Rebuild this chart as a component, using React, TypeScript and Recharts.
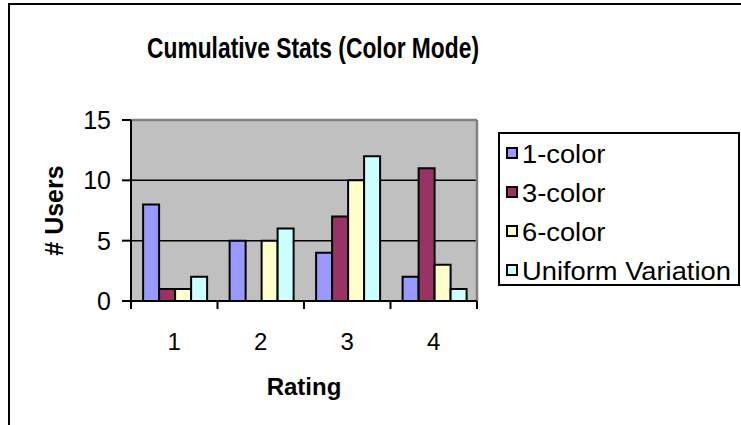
import React from 'react';
import {
  BarChart,
  Bar,
  XAxis,
  YAxis,
  CartesianGrid,
  Legend,
  ReferenceLine,
} from 'recharts';

const ratings = ['1', '2', '3', '4'];
const oneColor = [8, 5, 4, 2];
const threeColor = [1, 0, 7, 11];
const sixColor = [1, 5, 10, 3];
const uniformVariation = [2, 6, 12, 1];
const yTicks = [0, 5, 10, 15];

const seriesNames = ['1-color', '3-color', '6-color', 'Uniform Variation'];
const seriesKeys = ['c1', 'c3', 'c6', 'uv'];
const seriesColors = ['#9999FF', '#993366', '#FFFFCC', '#CCFFFF'];

const data = ratings.map((r, i) => ({
  rating: r,
  c1: oneColor[i],
  c3: threeColor[i],
  c6: sixColor[i],
  uv: uniformVariation[i],
}));

const FONT = '"Liberation Sans", Arial, sans-serif';
const W = 741;
const H = 425;
const MARGIN = { top: 120, right: 22, bottom: 64, left: 71 };
const X_AXIS_H = 60;
const Y_AXIS_W = 60;
const LEGEND_W = 242;
const PLOT_LEFT = MARGIN.left + Y_AXIS_W;
const PLOT_RIGHT = W - MARGIN.right - LEGEND_W;
const PLOT_BOTTOM = H - MARGIN.bottom - X_AXIS_H;
const BAND = (PLOT_RIGHT - PLOT_LEFT) / ratings.length;

const XTick = (props: any) => {
  const { x, payload, index } = props;
  const last = index === ratings.length - 1;
  return (
    <g>
      <line x1={x - BAND / 2} x2={x - BAND / 2} y1={PLOT_BOTTOM} y2={PLOT_BOTTOM + 8} stroke="#000" strokeWidth={2} />
      {last && (
        <line x1={x + BAND / 2} x2={x + BAND / 2} y1={PLOT_BOTTOM} y2={PLOT_BOTTOM + 8} stroke="#000" strokeWidth={2} />
      )}
      <text x={x} y={PLOT_BOTTOM + 49} textAnchor="middle" fontFamily={FONT} fontSize={24} fill="#000">
        {payload.value}
      </text>
    </g>
  );
};

const LegendBox = () => (
  <div
    style={{
      boxSizing: 'border-box',
      width: LEGEND_W,
      height: 154,
      border: '2px solid #000',
      background: '#fff',
      paddingTop: 1,
      fontFamily: FONT,
      fontSize: 26,
      color: '#000',
    }}
  >
    {seriesNames.map((name, i) => (
      <div key={name} style={{ height: 39, display: 'flex', alignItems: 'center', whiteSpace: 'nowrap' }}>
        <span
          style={{
            boxSizing: 'border-box',
            display: 'inline-block',
            width: 12,
            height: 12,
            marginLeft: 6,
            marginRight: 4,
            marginTop: -3,
            border: '2px solid #000',
            background: seriesColors[i],
          }}
        />
        <span style={{ display: 'inline-block', transform: 'scaleX(1.05)', transformOrigin: 'left center' }}>{name}</span>
      </div>
    ))}
  </div>
);

export default function App() {
  return (
    <div style={{ position: 'fixed', left: 0, top: 0, width: W, height: H, overflow: 'hidden', background: '#fff' }}>
      <div
        style={{
          position: 'absolute',
          left: 8,
          top: 3,
          width: 800,
          height: 500,
          borderLeft: '2px solid #000',
          borderTop: '2px solid #000',
        }}
      />
      <div style={{ position: 'absolute', left: 0, top: 0 }}>
        <BarChart
          width={W}
          height={H}
          data={data}
          margin={MARGIN}
          barGap={0}
          barCategoryGap="14%"
        >
          <text
            x={313}
            y={58}
            textAnchor="middle"
            textLength={332}
            lengthAdjust="spacingAndGlyphs"
            fontFamily={FONT}
            fontWeight="bold"
            fontSize={29}
            fill="#000"
          >
            Cumulative Stats (Color Mode)
          </text>
          <CartesianGrid vertical={false} stroke="#000" strokeWidth={1.5} fill="#C0C0C0" fillOpacity={1} />
          <ReferenceLine y={15} stroke="#808080" strokeWidth={2.5} />
          <ReferenceLine x="4" position="end" stroke="#808080" strokeWidth={2.5} />
          <XAxis
            dataKey="rating"
            height={X_AXIS_H}
            tickLine={false}
            axisLine={{ stroke: '#000', strokeWidth: 2 }}
            tick={<XTick />}
            interval={0}
            label={{
              content: (p: any) => (
                <text
                  x={p.viewBox.x + p.viewBox.width / 2}
                  y={p.viewBox.y + 94}
                  textAnchor="middle"
                  fontFamily={FONT}
                  fontWeight="bold"
                  fontSize={24}
                  fill="#000"
                >
                  Rating
                </text>
              ),
            }}
          />
          <YAxis
            width={Y_AXIS_W}
            domain={[0, 15]}
            ticks={yTicks}
            interval={0}
            tickSize={9}
            tickMargin={11}
            tickLine={{ stroke: '#000', strokeWidth: 2 }}
            axisLine={{ stroke: '#000', strokeWidth: 2 }}
            tick={{ fontFamily: FONT, fontSize: 25, fill: '#000' }}
            label={{
              content: (p: any) => {
                const cx = p.viewBox.x - 17;
                const cy = p.viewBox.y + p.viewBox.height / 2;
                return (
                  <text
                    x={cx}
                    y={cy}
                    transform={`rotate(-90 ${cx} ${cy})`}
                    textAnchor="middle"
                    dominantBaseline="central"
                    fontFamily={FONT}
                    fontWeight="bold"
                    fontSize={25}
                    fill="#000"
                  >
                    # Users
                  </text>
                );
              },
            }}
          />
          <Legend
            layout="vertical"
            align="right"
            verticalAlign="middle"
            content={<LegendBox />}
            wrapperStyle={{ left: 498, top: 132, right: 'auto', width: LEGEND_W }}
          />
          {seriesKeys.map((k, i) => (
            <Bar
              key={k}
              dataKey={k}
              name={seriesNames[i]}
              fill={seriesColors[i]}
              stroke="#000"
              strokeWidth={2}
              isAnimationActive={false}
            />
          ))}
        </BarChart>
      </div>
    </div>
  );
}
